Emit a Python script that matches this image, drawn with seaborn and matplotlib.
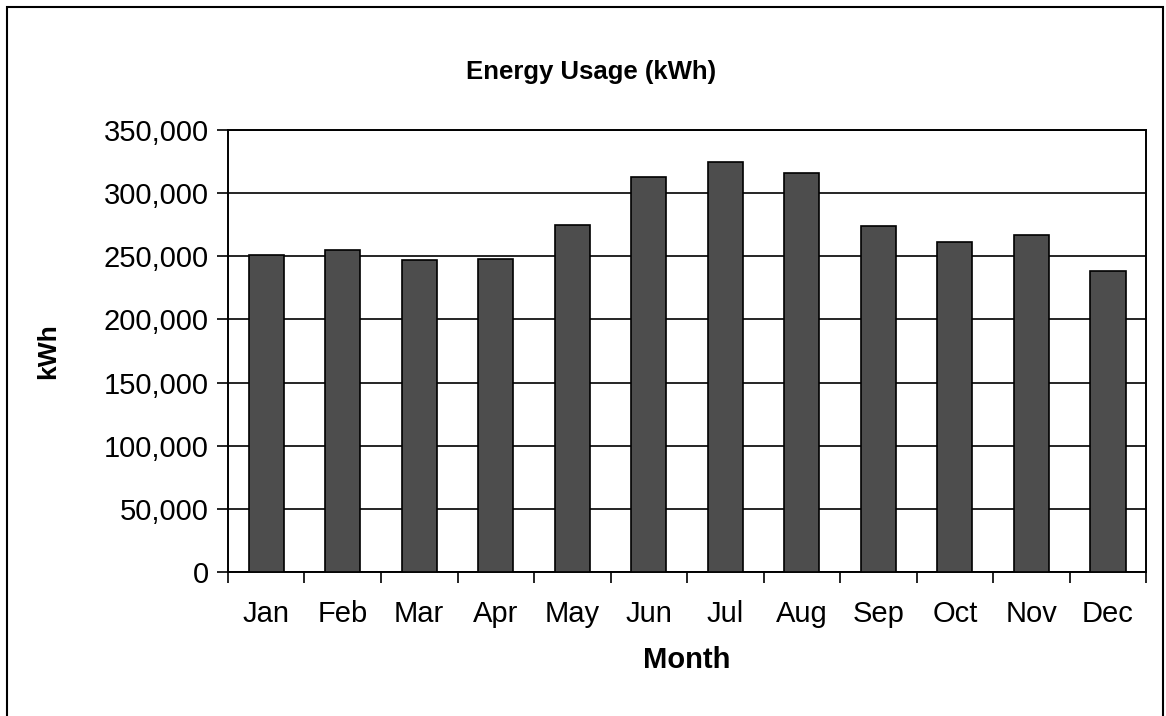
import matplotlib
matplotlib.use('Agg')
import matplotlib.pyplot as plt
import seaborn as sns
import pandas as pd
import numpy as np
from matplotlib.patches import Rectangle
from matplotlib.ticker import FuncFormatter, FixedLocator

# Dados
months = ['Jan', 'Feb', 'Mar', 'Apr', 'May', 'Jun', 'Jul', 'Aug', 'Sep', 'Oct', 'Nov', 'Dec']
usage_kwh = [251000, 255000, 247000, 248000, 275000, 313000, 325000, 316000, 274000, 261000, 267000, 238000]
y_ticks = [0, 50000, 100000, 150000, 200000, 250000, 300000, 350000]

df = pd.DataFrame({'month': months, 'kwh': usage_kwh})

sns.set_theme(style="white")
plt.rcParams['font.family'] = ['Liberation Sans', 'DejaVu Sans']
for k in ['text.color', 'axes.labelcolor', 'xtick.color', 'ytick.color']:
    plt.rcParams[k] = 'black'

fig = plt.figure(figsize=(11.66, 7.16), dpi=100)
ax = fig.add_axes([0.1955, 0.2011, 0.983 - 0.1955, 0.8184 - 0.2011])

sns.barplot(data=df, x='month', y='kwh', color='#4d4d4d', width=0.46,
            edgecolor='black', linewidth=1.2, saturation=1, ax=ax, zorder=3)

ax.set_ylim(0, 350000)
ax.set_xlim(-0.5, len(months) - 0.5)
ax.set_yticks(y_ticks)
ax.yaxis.set_major_formatter(FuncFormatter(lambda v, p: f'{int(v):,}'))
ax.yaxis.grid(True, color='black', linewidth=1.2, zorder=0)
ax.set_axisbelow(True)

# marcas do eixo x entre as categorias
ax.xaxis.set_minor_locator(FixedLocator(np.arange(-0.5, len(months), 1)))
ax.tick_params(axis='x', which='major', length=0, pad=20, labelsize=21)
ax.tick_params(axis='x', which='minor', length=8, width=1.2, color='black', bottom=True)
ax.tick_params(axis='y', which='major', length=8, width=1.2, color='black', left=True,
               labelsize=21, pad=6)

for s in ax.spines.values():
    s.set_color('black')
    s.set_linewidth(1.4)

ax.set_xlabel('Month', fontsize=21, fontweight='bold', va='center')
ax.set_ylabel('kWh', fontsize=19, fontweight='bold', va='center')
ax.xaxis.set_label_coords(0.5, (572 - 660) / 442)
ax.yaxis.set_label_coords((48 - 228) / 918, 0.5)
fig.text(0.507, 1 - 72 / 716, 'Energy Usage (kWh)', ha='center', va='center',
         fontsize=18.5, fontweight='bold')

# moldura externa
fig.patches.append(Rectangle((7 / 1166, -0.02), (1163 - 7) / 1166, 1 - 7 / 716 + 0.02,
                             transform=fig.transFigure, fill=False,
                             edgecolor='black', linewidth=1.5))

fig.savefig('out.png', dpi=100)
